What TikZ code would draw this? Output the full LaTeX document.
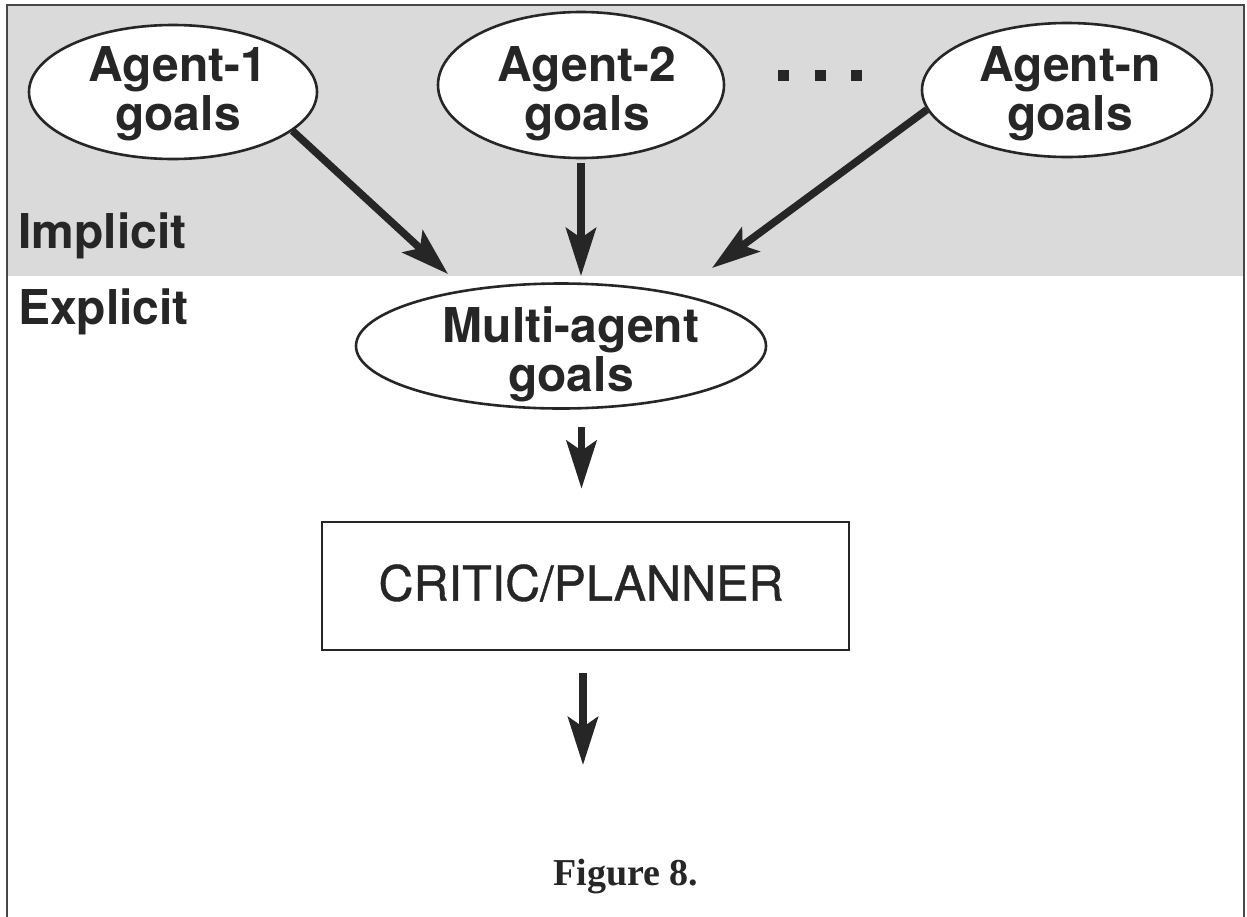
\documentclass[tikz,border=0pt]{standalone}
\usepackage{fontspec}
\setmainfont{Liberation Serif}
\newfontfamily\hv{TeX Gyre Heros}
\newfontfamily\hvheavy[FakeBold=0.8]{TeX Gyre Heros}
\usetikzlibrary{shapes.geometric,arrows.meta}
\definecolor{ink}{HTML}{262626}
\definecolor{bandgray}{HTML}{DADADA}
\begin{document}
\begin{tikzpicture}[x=1pt,y=-1pt,
  goal/.style={ellipse, draw=ink, line width=2.6pt, fill=white, inner sep=0pt},
  goaltext/.style={align=center, inner sep=0pt, text=ink,
    font=\hv\bfseries\fontsize{48}{49}\selectfont},
  flow/.style={draw=ink, line width=7.5pt,
    -{Stealth[length=48pt,width=30pt,inset=10pt]}},
  lbl/.style={anchor=base west, inner sep=0pt,
    font=\hv\bfseries\fontsize{48}{48}\selectfont, text=ink},
  dotmark/.style={fill=ink, minimum size=11pt, inner sep=0pt}
]
\useasboundingbox (0,0) rectangle (1247,916);
% implicit (shaded) band and frame
\fill[bandgray] (7,5) rectangle (1244,276);
\draw[ink!85, line width=2.5pt] (7,930) -- (7,5) -- (1244,5) -- (1244,930);

% goal ellipses
\node[goal, minimum width=288pt, minimum height=134pt] (a1) at (173,92) {};
\node[goal, minimum width=286pt, minimum height=146pt] (a2) at (581,85) {};
\node[goal, minimum width=290pt, minimum height=134pt] (an) at (1067,90) {};
\node[goal, minimum width=410pt, minimum height=125pt] (m) at (561,346) {};
\node[goaltext] (a1t) at (178,94) {Agent-1\\goals};
\node[goaltext] (a2t) at (587,94) {Agent-2\\goals};
\node[goaltext] (ant) at (1070,94) {Agent-n\\goals};
\node[goaltext] (mt) at (571,354) {Multi-agent\\goals};

% ellipsis between agents
\node[dotmark] (d1) at (783,75) {};
\node[dotmark] (d2) at (820,75) {};
\node[dotmark] (d3) at (856,75) {};

% planner box
\node[draw=ink, line width=2.6pt, minimum width=527pt, minimum height=128pt,
  inner sep=0pt] (c) at (585.5,586) {};
\node[inner sep=0pt, font=\hvheavy\fontsize{48.5}{48.5}\selectfont, text=ink] (ct) at (581,583) {CRITIC/PLANNER};

% side labels
\node[lbl] (imp) at (18,248) {Implicit};
\node[lbl] (exp) at (18,324) {Explicit};

% arrows
\coordinate (t1) at (448,274);
\coordinate (t2) at (581,276);
\coordinate (tn) at (712,268);
\coordinate (out) at (583,765);
\draw[flow] (a1.-18) -- (t1);
\draw[flow, shorten <=4pt] (a2.south) -- (t2);
\draw[flow] (an.-172) -- (tn);
\draw[flow, shorten <=17pt, shorten >=32pt] ([xshift=-4pt]m.south -| c.north) -- ([xshift=-4pt]c.north);
\draw[flow, shorten <=22pt] (c.south -| out) -- (out);

% caption
\node[font=\bfseries\fontsize{38}{38}\selectfont, anchor=base, text=ink, inner sep=0pt] (fig) at (626,885) {Figure 8.};
\end{tikzpicture}
\end{document}
